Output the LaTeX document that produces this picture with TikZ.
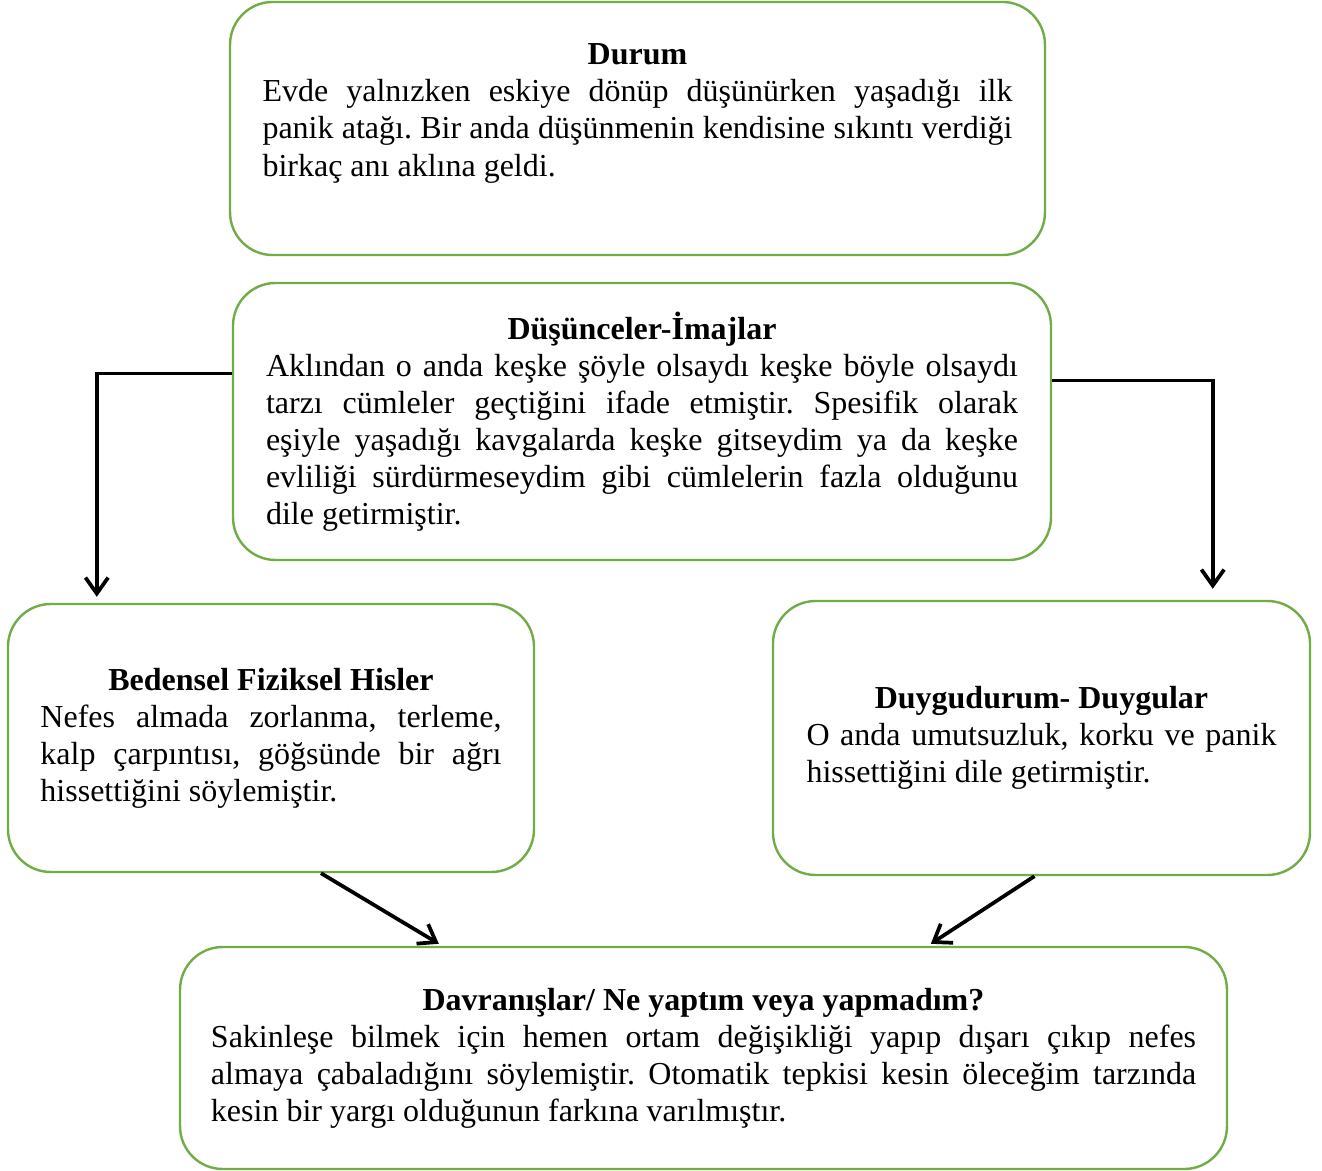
\documentclass[tikz,border=0pt]{standalone}
\usepackage{fontspec}
\setmainfont{Liberation Serif}
\usepackage{tikz}
\usetikzlibrary{arrows.meta,calc,positioning}
\definecolor{boxgreen}{RGB}{112,173,71}
\hyphenpenalty=10000
\frenchspacing

\begin{document}
\begin{tikzpicture}[x=0.375pt,y=-0.375pt,
    box/.style={draw=boxgreen,line width=0.9pt,rounded corners=16pt,align=justify,inner sep=0pt,
      font=\fontsize{12}{13.9}\selectfont},
    conn/.style={line width=1.4pt,-{Straight Barb[length=6pt,width=8.5pt]}}]
    \useasboundingbox (0,0) rectangle (1322,1171);
    % boxes
    \node[box,minimum width=305.6pt,minimum height=94.9pt,text width=281.25pt] (durum) at (637.5,128.5)
      {{\centering\textbf{Durum}\par}Evde yalnızken eskiye dönüp düşünürken yaşadığı ilk\linebreak
       panik atağı. Bir anda düşünmenin kendisine sıkıntı verdiği\linebreak
       birkaç anı aklına geldi.\par\mbox{}};
    \node[box,minimum width=306.75pt,minimum height=103.9pt,text width=282pt] (dusunce) at (642,421.5)
      {{\centering\textbf{Düşünceler-İmajlar}\par}Aklından o anda keşke şöyle olsaydı keşke böyle olsaydı\linebreak
       tarzı cümleler geçtiğini ifade etmiştir. Spesifik olarak\linebreak
       eşiyle yaşadığı kavgalarda keşke gitseydim ya da keşke\linebreak
       evliliği sürdürmeseydim gibi cümlelerin fazla olduğunu\linebreak
       dile getirmiştir.};
    \node[box,minimum width=197.25pt,minimum height=100.5pt,text width=172.9pt] (bedensel) at (271,738)
      {{\centering\textbf{Bedensel Fiziksel Hisler}\par}Nefes almada zorlanma, terleme,\linebreak
       kalp çarpıntısı, göğsünde bir ağrı\linebreak
       hissettiğini söylemiştir.};
    \node[box,minimum width=201.4pt,minimum height=102.75pt,text width=176.25pt] (duygu) at (1041.5,738)
      {{\centering\textbf{Duygudurum- Duygular}\par}O anda umutsuzluk, korku ve panik\linebreak
       hissettiğini dile getirmiştir.};
    \node[box,minimum width=392.6pt,minimum height=83.25pt,text width=369.4pt] (davranis) at (703.5,1058)
      {{\centering\textbf{Davranışlar/ Ne yaptım veya yapmadım?}\par}Sakinleşe bilmek için hemen ortam değişikliği yapıp dışarı çıkıp nefes\linebreak
       almaya çabaladığını söylemiştir. Otomatik tepkisi kesin öleceğim tarzında\linebreak
       kesin bir yargı olduğunun farkına varılmıştır.};
    % arrows
    \draw[conn] ($(dusunce.west)+(0,-48)$) -| ($(bedensel.north west)+(90,-6)$);
    \draw[conn] ($(dusunce.east)+(0,-41)$) -| ($(duygu.north west)+(441,-11)$);
    \draw[conn] ($(bedensel.south)+(50,0)$) -- ($(davranis.north west)+(260,-2)$);
    \draw[conn] ($(duygu.south)+(-7,0)$) -- ($(davranis.north west)+(752,-2)$);
\end{tikzpicture}
\end{document}
